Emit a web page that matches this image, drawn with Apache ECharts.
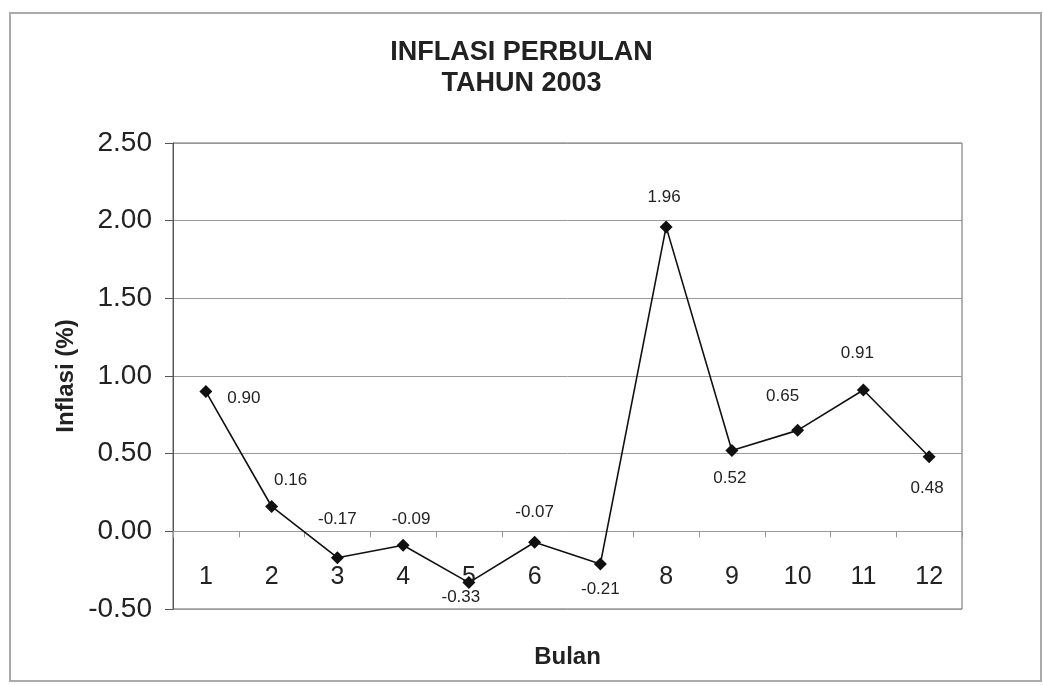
<!DOCTYPE html>
<html>
<head>
<meta charset="utf-8">
<script src="https://cdn.jsdelivr.net/npm/echarts@6/dist/echarts.min.js"></script>
<style>
  html, body { margin: 0; padding: 0; background: #fff; }
  #chart { width: 1043px; height: 685px; }
</style>
</head>
<body>
<div id="chart"></div>
<script>
// data
var months = ["1", "2", "3", "4", "5", "6", "7", "8", "9", "10", "11", "12"];
var inflasi = [0.90, 0.16, -0.17, -0.09, -0.33, -0.07, -0.21, 1.96, 0.52, 0.65, 0.91, 0.48];
var yTicks = { min: -0.5, max: 2.5, step: 0.5 };

// where each data label sits next to its point (dx, dy in px)
var labelSpots = [
  [38, 7], [19, -26], [0, -38], [8, -26], [-8, 15], [0, -30],
  [0, 25], [-2, -30], [-2, 28], [-15, -34], [-6, -37], [-2, 32]
];

var font = "'Liberation Sans', Arial, sans-serif";
var chart = echarts.init(document.getElementById("chart"));

var option = {
  backgroundColor: "#fff",
  animation: false,
  title: {
    text: "INFLASI PERBULAN\nTAHUN 2003",
    left: "center",
    top: 32,
    textStyle: {
      fontFamily: font,
      fontSize: 27,
      fontWeight: "bold",
      color: "#222",
      lineHeight: 31
    }
  },
  graphic: [
    {
      type: "rect",
      shape: { x: 10, y: 13, width: 1031, height: 668 },
      style: { fill: null, stroke: "#aaa", lineWidth: 2 },
      silent: true
    }
  ],
  grid: {
    left: 173,
    right: 81,
    top: 143,
    bottom: 76,
    outerBoundsMode: "none",
    containLabel: false,
    show: true,
    borderColor: "#666",
    borderWidth: 1
  },
  xAxis: {
    type: "category",
    data: months,
    boundaryGap: true,
    name: "Bulan",
    nameLocation: "middle",
    nameGap: 36,
    nameMoveOverlap: false,
    nameTextStyle: {
      fontFamily: font,
      fontSize: 24,
      fontWeight: "bold",
      color: "#222"
    },
    axisLine: { onZero: true, lineStyle: { color: "#999", width: 1 } },
    axisTick: { show: true, length: 6, lineStyle: { color: "#999" } },
    axisLabel: {
      margin: -44,
      fontFamily: font,
      fontSize: 25,
      color: "#222",
      // "7" is hidden under the -0.21 label in the original
      interval: function (i) { return i !== 6; }
    },
    splitLine: { show: false }
  },
  yAxis: {
    type: "value",
    min: yTicks.min,
    max: yTicks.max,
    interval: yTicks.step,
    name: "Inflasi (%)",
    nameLocation: "middle",
    nameGap: 95,
    nameRotate: 90,
    nameMoveOverlap: false,
    nameTextStyle: {
      fontFamily: font,
      fontSize: 24,
      fontWeight: "bold",
      color: "#222"
    },
    axisLine: { show: true, lineStyle: { color: "#555", width: 1 } },
    axisTick: { show: true, length: 8, lineStyle: { color: "#555" } },
    axisLabel: {
      margin: 21,
      fontFamily: font,
      fontSize: 28,
      color: "#222",
      formatter: function (v) { return v.toFixed(2); }
    },
    splitLine: { show: true, lineStyle: { color: "#999", width: 1 } }
  },
  series: [
    {
      type: "line",
      data: inflasi.map(function (v, i) {
        return {
          value: v,
          label: { offset: labelSpots[i] }
        };
      }),
      symbol: "diamond",
      symbolSize: 13,
      itemStyle: { color: "#111" },
      lineStyle: { color: "#111", width: 1.6 },
      label: {
        show: true,
        position: "inside",
        fontFamily: font,
        fontSize: 17,
        color: "#222",
        formatter: function (p) { return p.value.toFixed(2); }
      },
      z: 5
    }
  ]
};

chart.setOption(option);
</script>
</body>
</html>
